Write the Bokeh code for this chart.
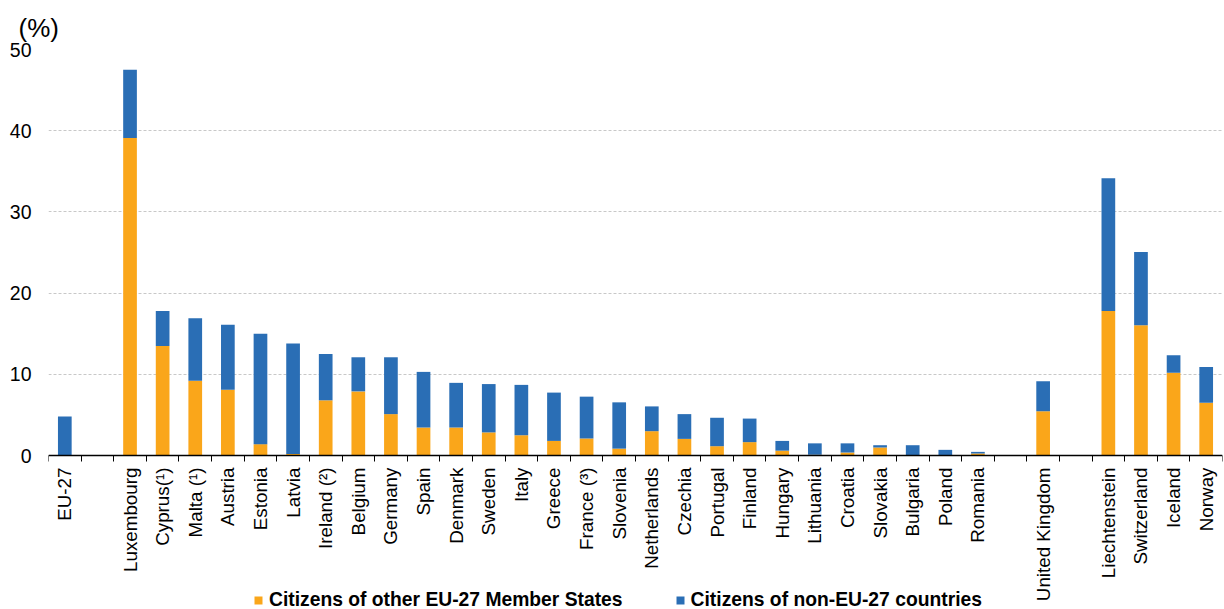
from bokeh.plotting import figure
from bokeh.models import FixedTicker, Legend, LegendItem, Range1d, ColumnDataSource
from bokeh.embed import file_html
from bokeh.resources import INLINE
import math

countries = ["EU-27",
             "Luxembourg", "Cyprus(\u00b9)", "Malta (\u00b9)", "Austria", "Estonia", "Latvia",
             "Ireland (\u00b2)", "Belgium", "Germany", "Spain", "Denmark", "Sweden", "Italy",
             "Greece", "France (\u00b3)", "Slovenia", "Netherlands", "Czechia", "Portugal",
             "Finland", "Hungary", "Lithuania", "Croatia", "Slovakia", "Bulgaria", "Poland",
             "Romania",
             "United Kingdom",
             "Liechtenstein", "Switzerland", "Iceland", "Norway"]
group_sizes = [1, 27, 1, 4]

eu_citizens = [0.0,
               39.1, 13.5, 9.2, 8.1, 1.4, 0.2,
               6.8, 7.9, 5.1, 3.45, 3.45, 2.85, 2.5,
               1.8, 2.1, 0.85, 3.0, 2.05, 1.15,
               1.65, 0.6, 0.1, 0.37, 0.99, 0.05, 0.02,
               0.25,
               5.45,
               17.8, 16.05, 10.2, 6.5]
non_eu_citizens = [4.8,
                   8.4, 4.3, 7.7, 8.0, 13.6, 13.6,
                   5.7, 4.2, 7.0, 6.85, 5.5, 5.95, 6.2,
                   5.95, 5.15, 5.7, 3.05, 3.05, 3.5,
                   2.9, 1.2, 1.4, 1.13, 0.28, 1.22, 0.68,
                   0.2,
                   3.7,
                   16.35, 9.0, 2.15, 4.4]
y_ticks = [0, 10, 20, 30, 40, 50]
series_labels = ["Citizens of other EU-27 Member States", "Citizens of non-EU-27 countries"]

ORANGE = "#FAA61A"
BLUE = "#2A6EB5"
FONT = "Liberation Sans"

# slot positions with one empty slot between groups
xs = []
pos = 0
for size in group_sizes:
    for _ in range(size):
        xs.append(pos)
        pos += 1
    pos += 1
n_slots = xs[-1] + 1

src = ColumnDataSource(dict(x=xs, eu=eu_citizens, non=non_eu_citizens, name=countries))

# frame extends below zero so the axis labels and legend live inside it
p = figure(width=1224, height=609, output_backend="svg", toolbar_location=None,
           x_range=Range1d(-0.5, n_slots - 0.5), y_range=Range1d(-18.96, 50),
           min_border_left=48, min_border_right=2, min_border_bottom=0, min_border_top=49)

rs = p.vbar_stack(["eu", "non"], x="x", width=0.42, source=src,
                  color=[ORANGE, BLUE], line_color=None)

p.title.text = "(%)"
p.title.align = "left"
p.title.offset = -30
p.title.text_font = FONT
p.title.text_font_size = "26px"
p.title.text_font_style = "normal"
p.title.text_color = "#000000"
p.title.standoff = 14

p.outline_line_color = None
p.xgrid.grid_line_color = None
p.ygrid.grid_line_color = "#c8c8c8"
p.ygrid.grid_line_dash = "3 2"
p.ygrid.grid_line_width = 1

xa = p.xaxis[0]
xa.fixed_location = 0
xa.ticker = FixedTicker(ticks=xs, minor_ticks=[b - 0.5 for b in range(n_slots + 1)])
xa.major_label_overrides = {x: c for x, c in zip(xs, countries)}
xa.major_label_orientation = math.pi / 2
xa.major_tick_line_color = None
xa.major_tick_out = 6
xa.major_tick_in = 0
xa.minor_tick_line_color = "#000000"
xa.minor_tick_out = 6
xa.minor_tick_in = 0
xa.axis_line_color = "#000000"
xa.axis_line_width = 1.5
xa.major_label_standoff = 6
xa.major_label_text_font = FONT
xa.major_label_text_font_size = "18.8px"
xa.major_label_text_color = "#000000"

ya = p.yaxis[0]
ya.ticker = FixedTicker(ticks=y_ticks)
ya.axis_line_color = None
ya.major_tick_line_color = None
ya.minor_tick_line_color = None
ya.major_label_standoff = 11
ya.major_label_text_font = FONT
ya.major_label_text_font_size = "19.5px"
ya.major_label_text_color = "#000000"

legend = Legend(items=[LegendItem(label=series_labels[0], renderers=[rs[0]]),
                       LegendItem(label=series_labels[1], renderers=[rs[1]])],
                orientation="horizontal", location=(205, -2))
legend.label_text_font = FONT
legend.label_text_font_size = "19.3px"
legend.label_text_font_style = "bold"
legend.label_text_color = "#000000"
legend.glyph_width = 10
legend.glyph_height = 10
legend.label_standoff = 6
legend.spacing = 52
legend.padding = 0
legend.margin = 0
legend.border_line_color = None
legend.background_fill_alpha = 0
p.add_layout(legend, "center")

open("out.html", "w").write(file_html(p, INLINE))
